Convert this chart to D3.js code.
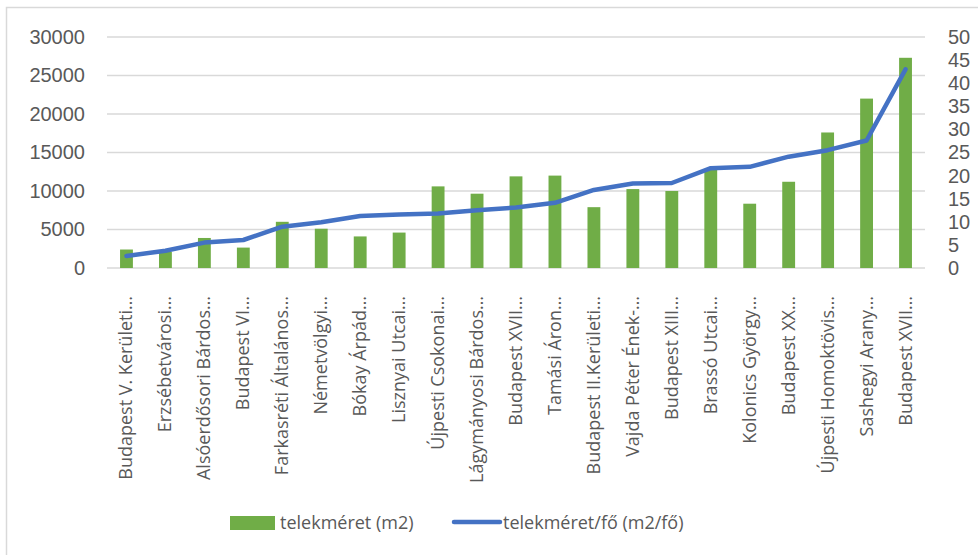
<!DOCTYPE html>
<html>
<head>
<meta charset="utf-8">
<script src="https://cdn.jsdelivr.net/npm/d3@7"></script>
<style>
  body { margin: 0; background: #fff; }
  svg { display: block; font-family: "Open Sans", "Noto Sans", sans-serif; }
</style>
</head>
<body>
<svg class="chart" width="978" height="555"></svg>
<script>
// category labels (truncated like in the original)
var categories = [
  "Budapest V. Kerületi…", "Erzsébetvárosi…", "Alsóerdősori Bárdos…", "Budapest VI…",
  "Farkasréti Általános…", "Németvölgyi…", "Bókay Árpád…", "Lisznyai Utcai…",
  "Újpesti Csokonai…", "Lágymányosi Bárdos…", "Budapest XVII…", "Tamási Áron…",
  "Budapest II.Kerületi…", "Vajda Péter Ének-…", "Budapest XIII…", "Brassó Utcai…",
  "Kolonics György…", "Budapest XX…", "Újpesti Homoktövis…", "Sashegyi Arany…",
  "Budapest XVII…"
];
// telekméret (m2) - bars, left axis
var plotSize = [2400, 2100, 3900, 2650, 6000, 5100, 4100, 4600, 10600, 9650,
  11900, 12000, 7900, 10250, 10000, 12800, 8350, 11200, 17600, 22000, 27300];
// telekméret/fő (m2/fő) - line, right axis
var perPerson = [2.6, 3.75, 5.5, 6.06, 8.95, 9.9, 11.25, 11.6, 11.8, 12.5,
  13.1, 14.1, 16.9, 18.3, 18.4, 21.6, 21.9, 24.1, 25.5, 27.6, 43];

var leftTicks = [0, 5000, 10000, 15000, 20000, 25000, 30000];
var rightTicks = [0, 5, 10, 15, 20, 25, 30, 35, 40, 45, 50];
var seriesNames = ["telekméret (m2)", "telekméret/fő (m2/fő)"];

var svg = d3.select("svg.chart");
var textColor = "#595959";

// outer chart border (only left/top visible)
svg.append("rect")
  .attr("x", 6.5).attr("y", 7.5)
  .attr("width", 1000).attr("height", 600)
  .attr("fill", "none").attr("stroke", "#d9d9d9").attr("stroke-width", 1.5);

var plotLeft = 107, plotRight = 925, plotTop = 37, plotBottom = 268;

// index based band scale (two categories share the same label)
var x = d3.scaleBand().domain(d3.range(categories.length)).range([plotLeft, plotRight])
  .paddingInner(0.67).paddingOuter(0.335);
var y = d3.scaleLinear().domain([0, 30000]).range([plotBottom, plotTop]);
var y2 = d3.scaleLinear().domain([0, 50]).range([plotBottom, plotTop]);

// gridlines
svg.append("g").selectAll("line")
  .data(leftTicks)
  .enter().append("line")
  .attr("x1", plotLeft).attr("x2", plotRight)
  .attr("y1", d => y(d)).attr("y2", d => y(d))
  .attr("stroke", "#d9d9d9").attr("stroke-width", 1.3);

// left axis
var leftAxis = svg.append("g")
  .attr("transform", "translate(" + (plotLeft - 22) + ",0)")
  .call(d3.axisLeft(y).tickValues(leftTicks).tickSize(0).tickPadding(0).tickFormat(d3.format("d")));
leftAxis.select(".domain").remove();
leftAxis.selectAll("text").attr("fill", textColor).style("font-size", "20px").attr("font-family", null);

// right axis
var rightAxis = svg.append("g")
  .attr("transform", "translate(" + (plotRight + 23) + ",0)")
  .call(d3.axisRight(y2).tickValues(rightTicks).tickSize(0).tickPadding(0));
rightAxis.select(".domain").remove();
rightAxis.selectAll("text").attr("fill", textColor).style("font-size", "20px").attr("font-family", null);

// bars
svg.append("g").selectAll("rect")
  .data(plotSize)
  .enter().append("rect")
  .attr("x", (d, i) => x(i))
  .attr("y", d => y(d))
  .attr("width", x.bandwidth())
  .attr("height", d => plotBottom - y(d))
  .attr("fill", "#70ad47");

// line
var line = d3.line()
  .x((d, i) => x(i) + x.bandwidth() / 2)
  .y(d => y2(d));
svg.append("path")
  .datum(perPerson)
  .attr("d", line)
  .attr("fill", "none")
  .attr("stroke", "#4472c4")
  .attr("stroke-width", 4.5)
  .attr("stroke-linecap", "round")
  .attr("stroke-linejoin", "round");

// category labels
svg.append("g").selectAll("text")
  .data(categories)
  .enter().append("text")
  .attr("transform", (d, i) => "translate(" + (x(i) + x.bandwidth() / 2 + 6) + "," + 296 + ") rotate(-90)")
  .attr("text-anchor", "end")
  .attr("fill", textColor)
  .style("font-size", "18px")
  .text(d => d);

// legend
var legend = svg.append("g");
legend.append("rect")
  .attr("x", 230).attr("y", 516).attr("width", 45).attr("height", 14)
  .attr("fill", "#70ad47");
legend.append("text")
  .attr("x", 280).attr("y", 529)
  .attr("fill", textColor).style("font-size", "18px")
  .text(seriesNames[0]);
legend.append("line")
  .attr("x1", 454).attr("x2", 500).attr("y1", 522).attr("y2", 522)
  .attr("stroke", "#4472c4").attr("stroke-width", 4.5).attr("stroke-linecap", "round");
legend.append("text")
  .attr("x", 503).attr("y", 529)
  .attr("fill", textColor).style("font-size", "18px")
  .text(seriesNames[1]);
</script>
</body>
</html>
